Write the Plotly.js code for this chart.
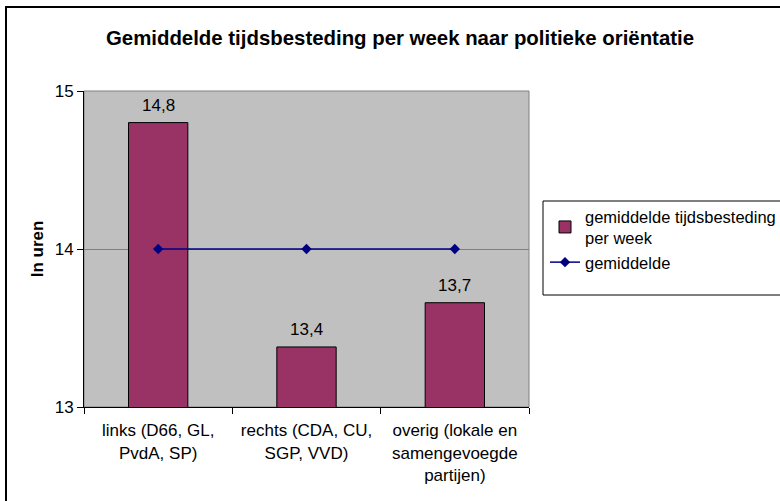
<!DOCTYPE html>
<html>
<head>
<meta charset="utf-8">
<script src="https://cdn.plot.ly/plotly-3.0.1.min.js"></script>
<style>
html,body{margin:0;padding:0;background:#fff;}
#wrap{position:relative;width:780px;height:501px;overflow:hidden;}
#chart{width:780px;height:501px;}
#frame{position:absolute;left:5px;top:6px;width:800px;height:600px;border:2px solid #000;pointer-events:none;box-sizing:border-box;}
</style>
</head>
<body>
<div id="wrap"><div id="chart"></div><div id="frame"></div></div>
<script>
const categories = [
  "links (D66, GL,<br>PvdA, SP)",
  "rechts (CDA, CU,<br>SGP, VVD)",
  "overig (lokale en<br>samengevoegde<br>partijen)"
];
const barValues = [14.8, 13.38, 13.66];
const meanValues = [14, 14, 14];
const barName = "gemiddelde tijdsbesteding<br>per week";
const lineName = "gemiddelde";
const chartTitle = "Gemiddelde tijdsbesteding per week naar politieke oriëntatie";
const yTitle = "In uren";
const yTicks = [13, 14, 15];

const font = "'Liberation Sans', Arial, sans-serif";
const fs = 17;
const plotL = 84, plotR = 529, plotT = 91, plotB = 407, W = 780, H = 501;
const pw = plotR - plotL, ph = plotB - plotT;

const traces = [
  {
    type: "bar",
    x: categories,
    y: barValues,
    name: barName,
    width: 0.4,
    marker: {color: "#993366", line: {color: "#000", width: 1}},
    hoverinfo: "skip"
  },
  {
    type: "scatter",
    mode: "lines+markers",
    x: categories,
    y: meanValues,
    name: lineName,
    line: {color: "#000080", width: 1.5},
    marker: {symbol: "diamond", size: 8, color: "#000080"},
    hoverinfo: "skip"
  }
];

const labelAnnotations = categories.map((c, i) => ({
  x: c, y: barValues[i], xref: "x", yref: "y",
  text: barValues[i].toFixed(1).replace(".", ","),
  showarrow: false, yanchor: "bottom", xanchor: "center", yshift: 6,
  font: {family: font, size: fs, color: "#000"}
}));

const layout = {
  width: W, height: H,
  paper_bgcolor: "#fff",
  plot_bgcolor: "#C0C0C0",
  margin: {l: plotL, r: W - plotR, t: plotT, b: H - plotB, pad: 0, autoexpand: false},
  font: {family: font, size: fs, color: "#000"},
  showlegend: true,
  title: {
    text: "<b>" + chartTitle + "</b>",
    font: {family: font, size: 20.4, color: "#000"},
    xref: "container", yref: "container",
    x: 400 / W, xanchor: "center",
    y: 1 - 38 / H, yanchor: "middle"
  },
  xaxis: {
    type: "category",
    range: [-0.5, 2.5],
    tickson: "boundaries",
    ticks: "outside", ticklen: 6, tickcolor: "#000", tickwidth: 1,
    ticklabelstandoff: 8,
    showline: true, linecolor: "#000", linewidth: 1,
    showgrid: false, zeroline: false,
    tickfont: {family: font, size: fs, color: "#000"},
    fixedrange: true
  },
  yaxis: {
    range: [13, 15],
    tickvals: yTicks,
    ticktext: yTicks.map(String),
    ticks: "outside", ticklen: 6, tickcolor: "#000", tickwidth: 1,
    showline: true, linecolor: "#000", linewidth: 1,
    showgrid: true, gridcolor: "#808080", gridwidth: 1,
    zeroline: false,
    tickfont: {family: font, size: fs, color: "#000"},
    title: {text: "<b>" + yTitle + "</b>", font: {family: font, size: fs, color: "#000"}, standoff: 6},
    automargin: false,
    fixedrange: true
  },
  annotations: labelAnnotations,
  legend: {
    xref: "container", yref: "container",
    x: 545 / W, xanchor: "left",
    y: 1 - 199 / H, yanchor: "top",
    bgcolor: "rgba(0,0,0,0)",
    borderwidth: 0,
    font: {family: font, size: 16.5, color: "#000"},
    traceorder: "normal",
    itemclick: false, itemdoubleclick: false
  },
  shapes: [
    {type: "rect", xref: "paper", yref: "paper",
     x0: 0, x1: 1, y0: 0, y1: 1,
     line: {color: "#808080", width: 1}, fillcolor: "rgba(0,0,0,0)", layer: "below"},
    {type: "rect", xref: "paper", yref: "paper",
     x0: (543 - plotL) / pw, x1: (800 - plotL) / pw,
     y0: (plotB - 295) / ph, y1: (plotB - 201) / ph,
     line: {color: "#000", width: 1}, fillcolor: "#fff", layer: "below"}
  ]
};

Plotly.newPlot("chart", traces, layout, {staticPlot: true, displayModeBar: false});
</script>
</body>
</html>
